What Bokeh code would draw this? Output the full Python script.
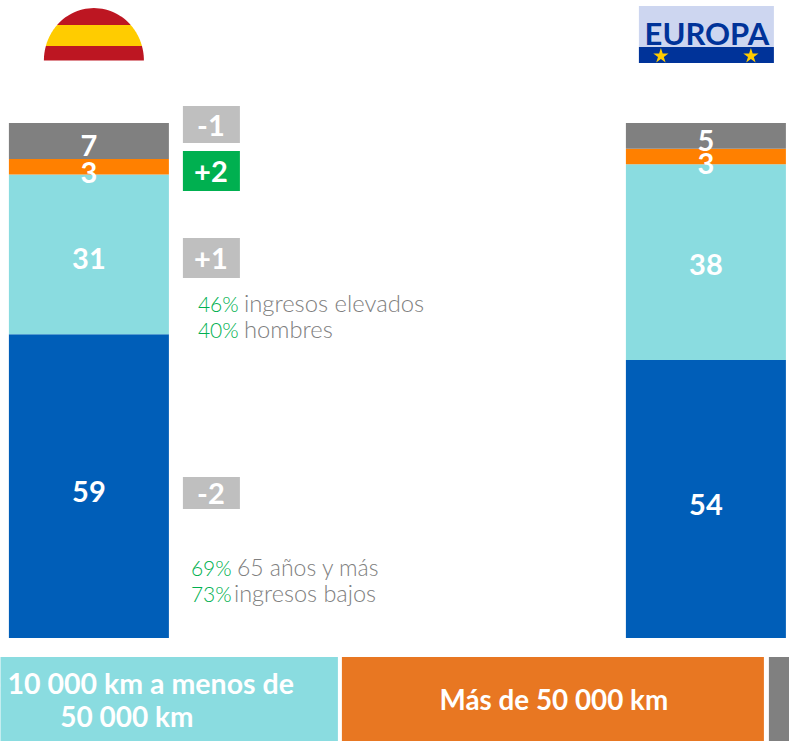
import numpy as np
from bokeh.plotting import figure
from bokeh.models import Range1d
from bokeh.core.properties import value
from bokeh.embed import file_html
from bokeh.resources import INLINE

regions = ["España", "Europa"]
region_x = [89, 706]
series_names = ["Menos de 10 000 km", "De 10 000 km a menos de 50 000 km", "Más de 50 000 km", "Otros"]
blue_vals = [59, 54]
teal_vals = [31, 38]
orange_vals = [3, 3]
grey_vals = [7, 5]
bar_colors = ["#005EB8", "#8ADCE0", "#FF8000", "#808080"]

deltas = ["-1", "+2", "+1", "-2"]
delta_colors = ["#BFBFBF", "#00B050", "#BFBFBF", "#BFBFBF"]
notes_pct = ["46%", "40%", "69%", "73%"]
notes_txt = ["ingresos elevados", "hombres", "65 años y más", "ingresos bajos"]
notes_size = [23.8, 23.8, 23, 23.5]

FONT = "Lato"
LIGHT = "Lato Light"
W, H = 789, 741
Y0, K = 638.0, 5.15
def Y(px):
    return (Y0 - np.asarray(px, dtype=float)) / K

p = figure(width=W, height=H, output_backend="svg", toolbar_location=None,
           x_axis_location=None, y_axis_location=None, min_border=0,
           x_range=Range1d(0.6, W + 0.6), y_range=Range1d(Y(H + 0.5), Y(0.5)),
           outline_line_color=None, background_fill_color="white", border_fill_color="white")
p.grid.visible = False

# stacked bars
stack = [blue_vals, teal_vals, orange_vals, grey_vals]
bottom = np.zeros(2)
for vals, col in zip(stack, bar_colors):
    top = bottom + np.array(vals)
    p.vbar(x=region_x, bottom=bottom, top=top, width=160, fill_color=col, line_color=None)
    bottom = top

def txt(x, ypx, s, size, color="white", style="bold", align="center", font=FONT):
    p.text([x], [float(Y(ypx))], text=[s], text_font=value(font), text_font_size=f"{size}px",
           text_font_style=style, text_color=color, text_align=align, text_baseline="middle")

# bar labels
bar_label_y = [[491, 504], [258, 264], [172, 163], [145, 140]]
for vals, ys in zip(stack, bar_label_y):
    for xc, v, yy in zip(region_x, vals, ys):
        txt(xc, yy, str(v), 29)

# delta badges
boxes = [(106, 143), (151, 191), (238, 278), (477, 509)]
for d, c, (t, b) in zip(deltas, delta_colors, boxes):
    p.quad(left=183, right=240, top=float(Y(t)), bottom=float(Y(b)), fill_color=c, line_color=None)
    txt(211, (t + b) / 2 + 0.5, d, 29)

# notes
note_pos = [(198, 244, 303), (198, 244, 329), (191, 237, 567), (191, 234, 593)]
for pct, s, sz, (x1, x2, yy) in zip(notes_pct, notes_txt, notes_size, note_pos):
    txt(x1, yy, pct, 21, "#00B050", "normal", "left", LIGHT)
    txt(x2, yy, s, sz, "#808080", "normal", "left", LIGHT)

# bottom legend bands
bands = [(-60, 338, "#8ADCE0"), (342, 764, "#E87722"), (769, 830, "#808080")]
for l, r, c in bands:
    p.quad(left=l, right=r, top=float(Y(657)), bottom=float(Y(745)), fill_color=c, line_color=None)
txt(129, 683, "De 10 000 km a menos de", 28.5)
txt(127, 716, "50 000 km", 28)
txt(554, 699, series_names[2], 27.8)

# Spanish flag: half disc with stripes
cx, rx, ry, base = 94, 50.0, 52.6, 60.6
def stripe(t, b, col):
    ys = np.linspace(t, b, 24)
    dx = rx * np.sqrt(np.maximum(1 - ((base - ys) / ry) ** 2, 0))
    xs = np.concatenate([cx - dx, (cx + dx)[::-1]])
    yy = np.concatenate([ys, ys[::-1]])
    p.patch(xs, Y(yy), fill_color=col, line_color=None)
stripe(base - ry, 25, "#BD1622")
stripe(25, 46, "#FFCC00")
stripe(46, base, "#BD1622")

# Europa badge
p.quad(left=639, right=774, top=float(Y(6)), bottom=float(Y(47)), fill_color="#CDD6F0", line_color=None)
p.quad(left=639, right=774, top=float(Y(47)), bottom=float(Y(63)), fill_color="#003399", line_color=None)
txt(707, 33, "EUROPA", 31, "#003399", "bold")
p.scatter([661, 751], Y([56, 56]), marker="star", size=16, fill_color="#FFCC00", line_color=None)

open("out.html", "w").write(file_html(p, INLINE))
